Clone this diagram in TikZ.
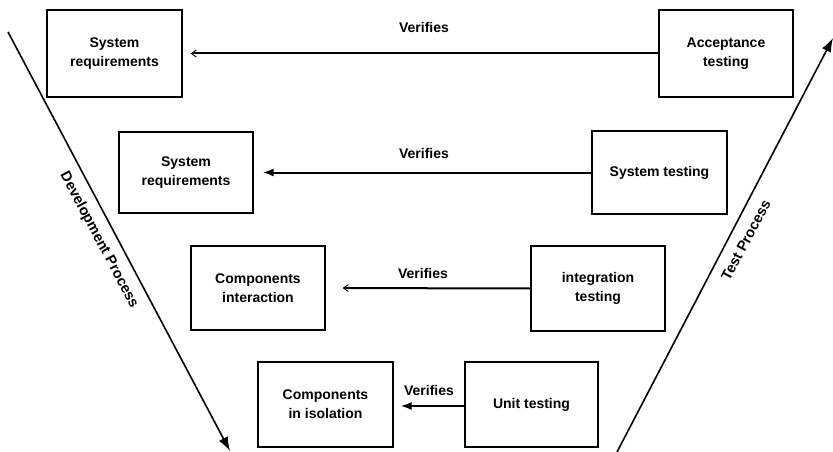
\documentclass[tikz,border=0pt]{standalone}
\usepackage{fontspec}
\setmainfont{Liberation Sans}
\usetikzlibrary{arrows.meta}
\begin{document}
\begin{tikzpicture}[x=1pt,y=-1pt,
  box/.style={draw,line width=1.2pt,minimum width=135pt,minimum height=86pt,
    align=center,inner sep=0pt,font=\bfseries\fontsize{14}{19}\selectfont},
  lbl/.style={inner sep=0pt,font=\bfseries\fontsize{14}{16}\selectfont},
  proc/.style={inner sep=0pt,font=\bfseries\fontsize{14.5}{16}\selectfont},
  conn/.style={line width=2pt},
  openhead/.style={-{Straight Barb[length=5pt,width=7pt,line width=0.9pt]}},
  fillhead/.style={-{Latex[length=11pt,width=8pt]}},
  diag/.style={line width=1.6pt,-{Latex[length=14pt,width=10pt]}}
]
\useasboundingbox (0,0) rectangle (833,452);

% boxes
\node[box,minimum width=135pt,minimum height=87pt] (sr1) at (114.5,53.5) {System\\requirements};
\node[box,minimum width=134pt,minimum height=87pt] (acc) at (726,53.5) {Acceptance\\testing};
\node[box,minimum width=134pt,minimum height=81pt] (sr2) at (186,172.5) {System\\requirements};
\node[box,minimum width=135pt,minimum height=83pt] (st) at (659.5,172.5) {System testing};
\node[box,minimum width=134pt,minimum height=84pt] (ci) at (258,288) {Components\\interaction};
\node[box,minimum width=134pt,minimum height=85pt] (it) at (598,288.5) {integration\\testing};
\node[box,minimum width=135pt,minimum height=85pt] (cis) at (325.5,404.5) {Components\\in isolation};
\node[box,minimum width=133pt,minimum height=85pt] (ut) at (531.5,404.5) {Unit testing};

% verifies connectors
\draw[conn,openhead,shorten >=8pt] (acc.west) -- (sr1.east);
\draw[conn,fillhead,shorten >=9pt] (st.west) -- (sr2.east);
\draw[conn,openhead,shorten >=17pt] (it.west) -- (ci.east);
\draw[conn,fillhead,shorten >=7pt] (ut.west |- 0,406) coordinate (u0) -- (cis.east |- u0);

% labels
\node[lbl] (v1) at (424,27) {Verifies};
\node[lbl] (v2) at (424,153) {Verifies};
\node[lbl] (v3) at (423,273) {Verifies};
\node[lbl] (v4) at (429,390) {Verifies};

% process arrows
\coordinate (d0) at (8,32);
\coordinate (d1) at (230,451);
\draw[diag] (d0) -- (d1);
\coordinate (t0) at (617,452);
\coordinate (t1) at (833,38);
\draw[diag] (t0) -- (t1);
\node[proc,rotate=-62] (dp) at (99,240) {Development Process};
\node[proc,rotate=62] (tp) at (746,240) {Test Process};
\end{tikzpicture}
\end{document}
